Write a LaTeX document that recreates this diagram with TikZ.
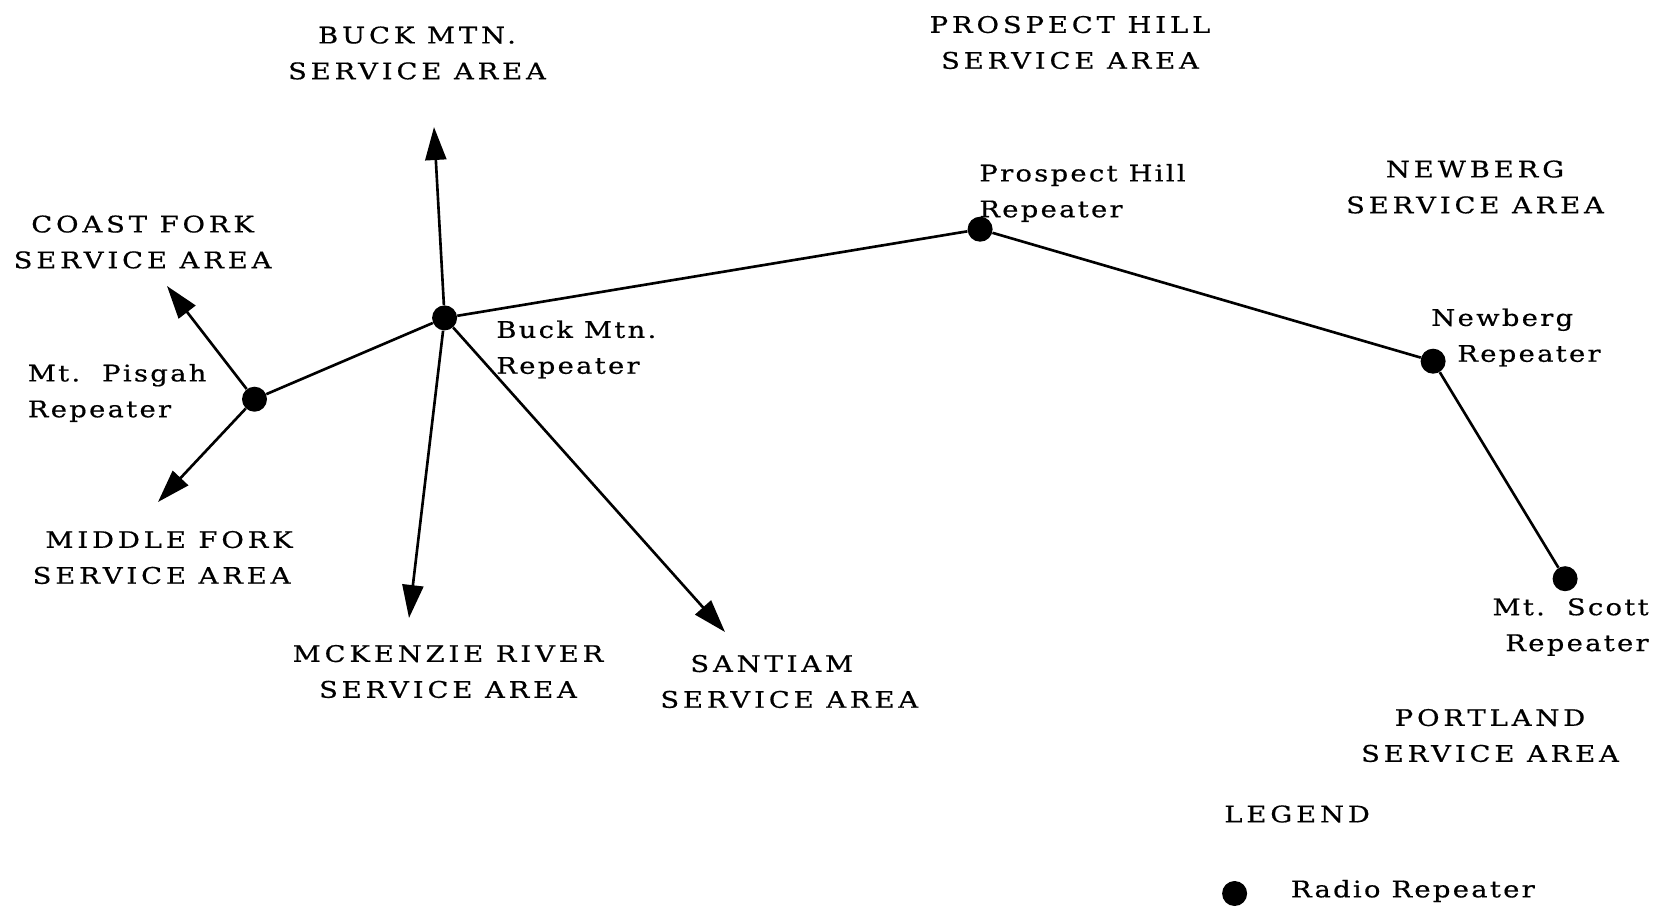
\documentclass[tikz,border=0pt]{standalone}
\usepackage{fontspec}
\setmainfont{DejaVu Serif}[FakeStretch=1.2,LetterSpace=17,FakeBold=0.6]
\newfontfamily\namefont{DejaVu Serif}[FakeStretch=1.2,LetterSpace=10,FakeBold=0.6]
\usetikzlibrary{arrows.meta}
\begin{document}
\begin{tikzpicture}[x=0.02cm,y=-0.02cm,
  repeater/.style={circle,fill=black,inner sep=0pt,minimum size=0.5cm},
  link/.style={line width=1.5pt},
  feed/.style={line width=1.5pt,-{Triangle[length=0.66cm,width=0.42cm]}},
  lbl/.style={inner sep=0pt,font=\fontsize{13}{20.4}\selectfont},
  area/.style={lbl,align=center},
  sitename/.style={inner sep=0pt,font=\namefont\fontsize{13}{20.4}\selectfont,align=left,anchor=west}]
\useasboundingbox (0,0) rectangle (1656,907);

% repeater sites
\node[repeater] (pisgah)   at (254.5,399.2) {};
\node[repeater] (buck)     at (444.6,317.9) {};
\node[repeater] (prospect) at (980.1,229.2) {};
\node[repeater] (newberg)  at (1433.1,361.2) {};
\node[repeater] (scott)    at (1565.1,578.7) {};

% arrow tips toward the service areas
\coordinate (toBuckArea)     at (434,127);
\coordinate (toCoastFork)    at (167,286);
\coordinate (toMiddleFork)   at (158,502);
\coordinate (toMcKenzie)     at (409,618);
\coordinate (toSantiam)      at (725,632);

% radio links
\draw[link] (pisgah) -- (buck);
\draw[link] (buck) -- (prospect);
\draw[link] (prospect) -- (newberg);
\draw[link] (newberg) -- (scott);

% service feeds
\draw[feed] (buck) -- (toBuckArea);
\draw[feed] (pisgah) -- (toCoastFork);
\draw[feed] (pisgah) -- (toMiddleFork);
\draw[feed] (buck) -- (toMcKenzie);
\draw[feed] (buck) -- (toSantiam);

% service area names
\node[area] (aBuck)     at (417,53)    {BUCK MTN.\\SERVICE AREA};
\node[area] (aProspect) at (1070,42.5) {PROSPECT HILL\\SERVICE AREA};
\node[area] (aCoast)    at (142.6,242) {COAST FORK\\SERVICE AREA};
\node[area] (aNewberg)  at (1475,187)  {NEWBERG\\SERVICE AREA};
\node[area] (aMiddle)   at (161.6,557.5) {\hspace*{0.3cm}MIDDLE FORK\\SERVICE AREA};
\node[area] (aMcK)      at (448,671.5) {MCKENZIE RIVER\\SERVICE AREA};
\node[lbl,align=left,anchor=west] (aSantiam) at (660,681.5) {\hspace*{0.6cm}SANTIAM\\SERVICE AREA};
\node[area] (aPortland) at (1490,735.5) {PORTLAND\\SERVICE AREA};

% repeater names
\node[sitename] (lProspect) at (979,193)    {Prospect Hill\\Repeater};
\node[sitename] (lBuck)     at (496,349.5)  {Buck Mtn.\\Repeater};
\node[sitename] (lPisgah)   at (27.5,393)   {Mt.\ \ Pisgah\\Repeater};
\node[sitename] (lNewberg)  at (1431,337.5) {Newberg\\\hspace*{0.52cm}Repeater};
\node[sitename,align=right,anchor=east] (lScott) at (1649,627) {Mt.\ \ Scott\\Repeater};

% legend
\node[lbl,anchor=west] (legend) at (1224,814) {LEGEND};
\node[repeater] (legendDot) at (1234.6,893.5) {};
\node[sitename] (legendText) at (1290.6,891) {Radio Repeater};
\end{tikzpicture}
\end{document}
